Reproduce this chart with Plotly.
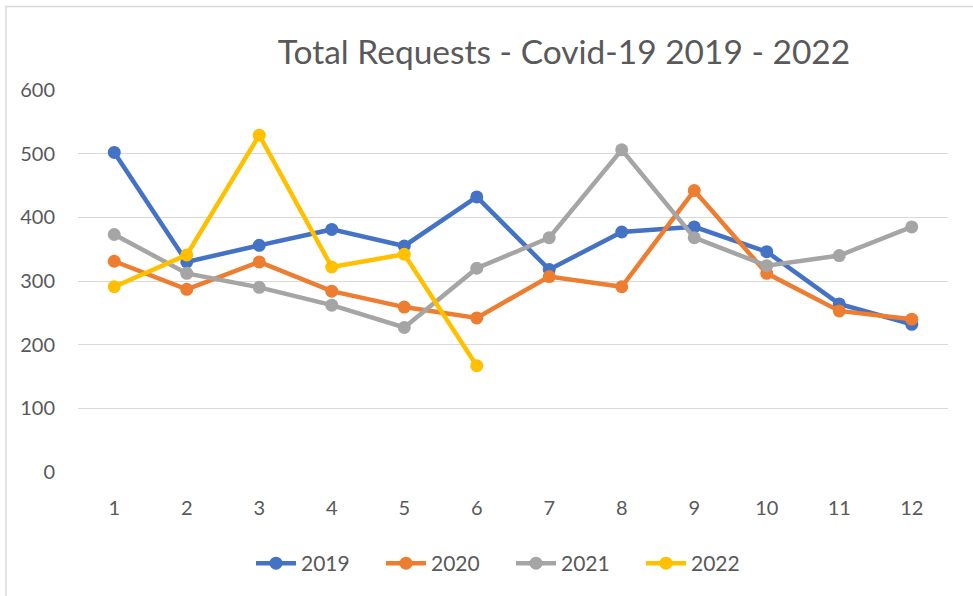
import plotly.graph_objects as go

months = [1, 2, 3, 4, 5, 6, 7, 8, 9, 10, 11, 12]
y2019 = [502, 330, 356, 381, 355, 432, 318, 377, 385, 346, 264, 232]
y2020 = [331, 287, 330, 284, 259, 242, 307, 291, 442, 312, 253, 240]
y2021 = [373, 312, 290, 262, 227, 320, 368, 506, 368, 324, 340, 385]
y2022 = [291, 341, 529, 322, 342, 167]
y_ticks = [0, 100, 200, 300, 400, 500, 600]

series = [
    ("2019", y2019, "#4472C4"),
    ("2020", y2020, "#ED7D31"),
    ("2021", y2021, "#A5A5A5"),
    ("2022", y2022, "#FFC000"),
]

W, H = 973, 596
L, R, T, B = 78, 948, 90, 474

fig = go.Figure()
for name, vals, col in series:
    fig.add_trace(go.Scatter(
        x=months[:len(vals)], y=vals, name=name, mode="lines+markers",
        line=dict(color=col, width=4.5),
        marker=dict(color=col, size=13),
        cliponaxis=False,
    ))

font = "Lato, Carlito, Calibri, sans-serif"
fig.update_layout(
    width=W, height=H,
    margin=dict(l=L, r=W - R, t=T, b=H - B, pad=0),
    paper_bgcolor="white", plot_bgcolor="white",
    font=dict(family=font, color="#595959", size=20),
    title=dict(text="Total Requests - Covid-19 2019 - 2022",
               x=(564 - L) / (R - L), xref="paper", xanchor="center",
               y=1 - 52 / H, yref="container", yanchor="middle",
               font=dict(family=font, size=33.5, color="#595959")),
    xaxis=dict(range=[0.5, 12.5], tickmode="array", tickvals=months,
               ticktext=[str(m) for m in months], showgrid=False,
               zeroline=False, showline=False, ticks="",
               ticklabelstandoff=22, tickfont=dict(size=20)),
    yaxis=dict(range=[0, 600], tickmode="array", tickvals=y_ticks,
               ticktext=[str(v) for v in y_ticks], showgrid=True,
               gridcolor="#D9D9D9", gridwidth=1.3, zeroline=False,
               showline=False, ticks="", ticklabelstandoff=22,
               tickfont=dict(size=20)),
    legend=dict(orientation="h", x=(511 - L) / (R - L), xanchor="center",
                y=-(566 - B) / (B - T), yanchor="middle",
                font=dict(size=21, color="#595959"),
                itemwidth=40, tracegroupgap=0,
                entrywidth=75, entrywidthmode="pixels"),
    showlegend=True,
)
fig.add_shape(type="rect", xref="paper", yref="paper",
              x0=(6 - L) / (R - L), x1=(1000 - L) / (R - L),
              y0=(B - 6) / (B - T), y1=(B - 620) / (B - T),
              line=dict(color="#D9D9D9", width=1.5), layer="below")
fig.write_html(
    "out.html",
    config={"displayModeBar": False},
    post_script="document.body.style.margin='0';document.body.style.overflow='hidden';",
)
